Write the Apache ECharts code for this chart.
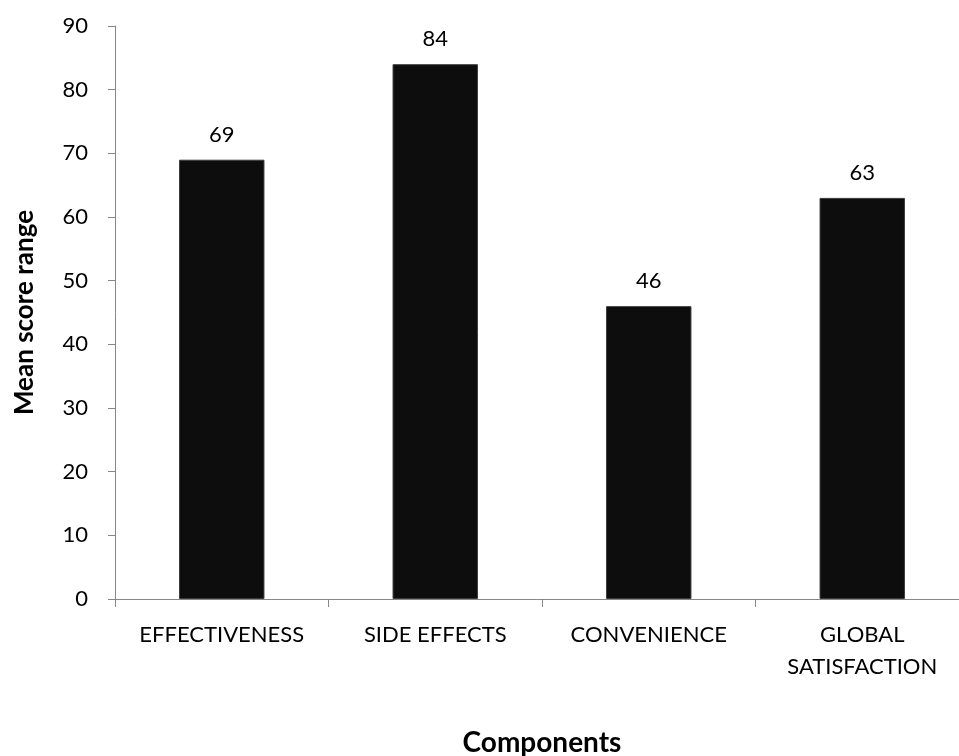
<!DOCTYPE html>
<html>
<head>
<meta charset="utf-8">
<script src="https://cdn.jsdelivr.net/npm/echarts@6/dist/echarts.min.js"></script>
<style>
  html, body { margin: 0; padding: 0; background: #ffffff; }
  #chart { width: 959px; height: 756px; }
</style>
</head>
<body>
<div id="chart"></div>
<script>
// Mean score per satisfaction component
const categories = ['EFFECTIVENESS', 'SIDE EFFECTS', 'CONVENIENCE', 'GLOBAL\nSATISFACTION'];
const meanScores = [69, 84, 46, 63];
const yTicks = { min: 0, max: 90, interval: 10 };

const FONT = 'Lato, "Liberation Sans", sans-serif';
const AXIS_GREY = '#868686';

const chart = echarts.init(document.getElementById('chart'), null, { renderer: 'canvas' });

chart.setOption({
  animation: false,
  backgroundColor: '#ffffff',
  textStyle: { fontFamily: FONT, color: '#000000' },
  // plot area runs a little past the right edge of the canvas
  grid: { left: 115, width: 854, top: 26, bottom: 157, containLabel: false, outerBoundsMode: 'none' },
  xAxis: {
    type: 'category',
    data: categories,
    name: 'Components',
    nameLocation: 'middle',
    nameGap: 130,
    nameTextStyle: { fontFamily: FONT, fontSize: 28, fontWeight: 'bold', color: '#000000' },
    axisLine: { lineStyle: { color: AXIS_GREY, width: 1 } },
    axisTick: { show: true, length: 8, alignWithLabel: false, lineStyle: { color: AXIS_GREY } },
    axisLabel: {
      fontFamily: FONT, fontSize: 22, color: '#000000',
      margin: 20, lineHeight: 32, interval: 0
    },
    splitLine: { show: false }
  },
  yAxis: {
    type: 'value',
    min: yTicks.min,
    max: yTicks.max,
    interval: yTicks.interval,
    name: 'Mean score range',
    nameLocation: 'middle',
    nameGap: 77,
    nameTextStyle: { fontFamily: FONT, fontSize: 26, fontWeight: 'bold', color: '#000000' },
    axisLine: { show: true, lineStyle: { color: AXIS_GREY, width: 1 } },
    axisTick: { show: true, length: 7, lineStyle: { color: AXIS_GREY } },
    axisLabel: { fontFamily: FONT, fontSize: 22, color: '#000000', margin: 27 },
    splitLine: { show: false }
  },
  series: [{
    type: 'bar',
    data: meanScores,
    barWidth: '40%',
    itemStyle: { color: '#0d0d0d', borderColor: '#3a3a3a', borderWidth: 1 },
    label: {
      show: true,
      position: 'top',
      distance: 14,
      fontFamily: FONT,
      fontSize: 22,
      color: '#000000'
    }
  }]
});
</script>
</body>
</html>
